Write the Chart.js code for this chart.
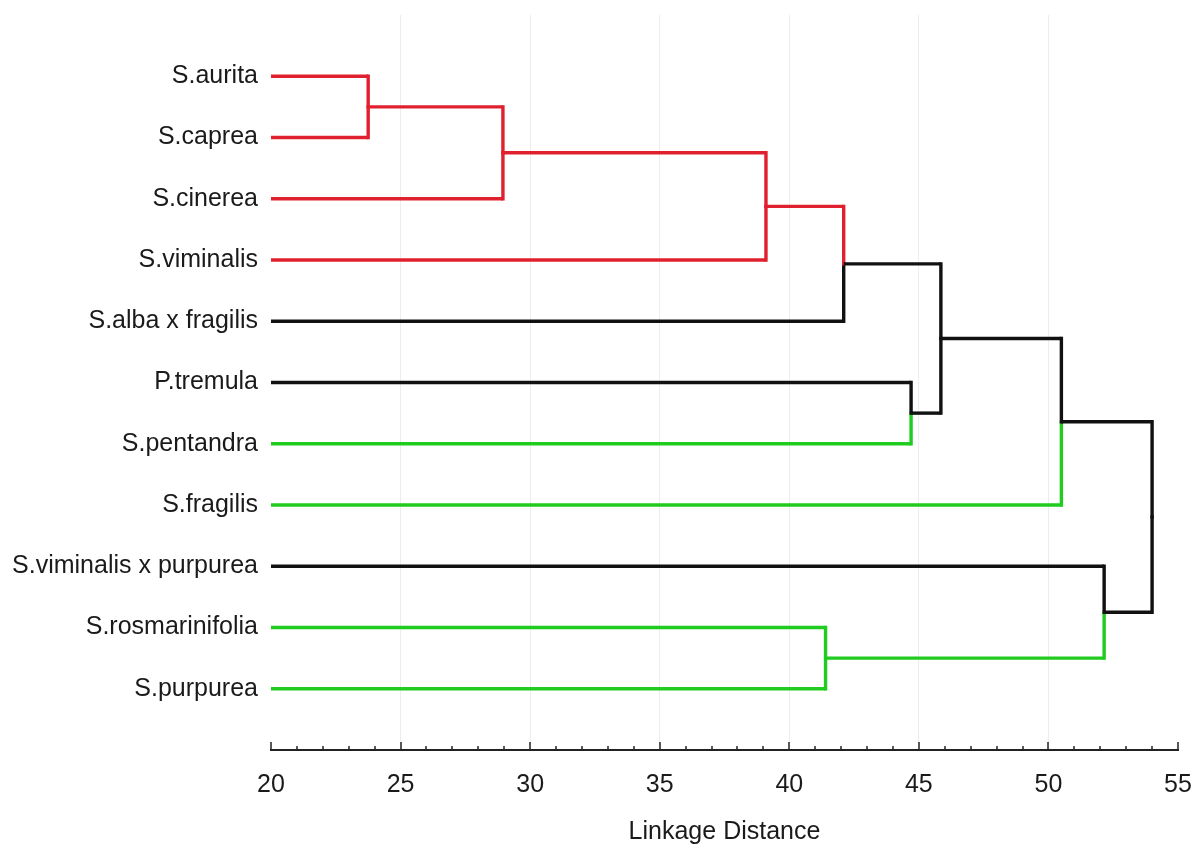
<!DOCTYPE html>
<html>
<head>
<meta charset="utf-8">
<script src="https://cdn.jsdelivr.net/npm/chart.js@4/dist/chart.umd.min.js"></script>
<style>
html,body{margin:0;padding:0;background:#ffffff;}
#wrap{width:1195px;height:845px;}
</style>
</head>
<body>
<div id="wrap"><canvas id="c" width="1195" height="845"></canvas></div>
<script>
// ---- data ----
const leaves = ['S.aurita','S.caprea','S.cinerea','S.viminalis','S.alba x fragilis','P.tremula','S.pentandra','S.fragilis','S.viminalis x purpurea','S.rosmarinifolia','S.purpurea'];
const leafColors = ['red','red','red','red','black','black','green','green','black','green','green'];
// merges: children (leaf index or 'mN' for an earlier merge), linkage distance, cluster colour
const mergeA = [0,'m0','m1','m2',5,'m3','m5',9,8,'m6'];
const mergeB = [1,2,3,4,6,'m4',7,10,'m7','m8'];
const mergeHeights = [23.75,28.95,39.1,42.1,44.7,45.85,50.5,41.4,52.15,54.0];
const mergeColors = ['red','red','red','black','black','black','black','green','black','black'];
const xMin = 20, xMax = 55;
const xLabelStep = 5;
const axisTitle = 'Linkage Distance';

// ---- styles ----
const palette = {red:'#e0202e', green:'#1fcc1f', black:'#111111'};
const FONT = "'Liberation Sans', Arial, Helvetica, sans-serif";
const textColor = '#1a1a1a';

// ---- build dendrogram segments from data ----
function nodeInfo(ref){
  if (typeof ref === 'number') return {x: xMin, y: ref, color: leafColors[ref]};
  return nodes[parseInt(ref.slice(1),10)];
}
const nodes = [];
const datasets = [];
function seg(x1,y1,x2,y2,color,cap){
  datasets.push({
    data:[{x:x1,y:y1},{x:x2,y:y2}],
    showLine:true, borderColor:palette[color], backgroundColor:palette[color],
    borderWidth:3.4, pointRadius:0, pointHoverRadius:0, fill:false,
    borderCapStyle:cap, clip:false, tension:0
  });
}
for (let i=0;i<mergeHeights.length;i++){
  const a = nodeInfo(mergeA[i]);
  const b = nodeInfo(mergeB[i]);
  const h = mergeHeights[i];
  const ym = (a.y + b.y)/2;
  nodes.push({x:h, y:ym, color:mergeColors[i]});
  seg(a.x, a.y, h, a.y, a.color, 'butt');
  seg(b.x, b.y, h, b.y, b.color, 'butt');
}
for (let i=0;i<mergeHeights.length;i++){
  const a = nodeInfo(mergeA[i]);
  const b = nodeInfo(mergeB[i]);
  const h = mergeHeights[i];
  const ym = (a.y + b.y)/2;
  seg(h, a.y, h, ym, a.color, 'square');
  seg(h, ym, h, b.y, b.color, 'square');
}

// ---- inward tick marks on x axis ----
const tickMarks = {
  id:'tickMarks',
  afterDraw(chart){
    const s = chart.scales.x, ctx = chart.ctx, y = chart.chartArea.bottom;
    ctx.save();
    ctx.strokeStyle = '#222';
    ctx.lineWidth = 1.5;
    s.ticks.forEach(t => {
      const px = Math.round(s.getPixelForValue(t.value));
      const len = (t.value % xLabelStep === 0) ? 8 : 4;
      ctx.beginPath();
      ctx.moveTo(px, y);
      ctx.lineTo(px, y - len);
      ctx.stroke();
    });
    ctx.restore();
  }
};

new Chart(document.getElementById('c'), {
  type:'scatter',
  data:{datasets},
  plugins:[tickMarks],
  options:{
    responsive:false, animation:false, devicePixelRatio:1,
    layout:{padding:{left:0,right:17,top:15,bottom:0}},
    plugins:{legend:{display:false}, tooltip:{enabled:false}},
    scales:{
      x:{
        type:'linear', position:'bottom', min:xMin, max:xMax,
        ticks:{stepSize:1, autoSkip:false, maxRotation:0,
          callback:v => (v % xLabelStep === 0) ? String(v) : '',
          font:{family:FONT,size:25}, color:textColor, padding:20},
        grid:{drawTicks:false,
          color:ctx => (ctx.tick && ctx.tick.value % xLabelStep === 0 && ctx.tick.value > xMin && ctx.tick.value < xMax) ? 'rgba(0,0,0,0.07)' : 'rgba(0,0,0,0)',
          lineWidth:1},
        border:{display:true, color:'#222', width:2},
        title:{display:true, text:axisTitle, font:{family:FONT,size:25}, color:textColor, padding:{top:0,bottom:-2}},
        afterFit:s => { s.height = 95; s.paddingLeft = 0; s.paddingRight = 0; }
      },
      y:{
        type:'linear', min:-1, max:leaves.length, reverse:true,
        ticks:{stepSize:1, autoSkip:false,
          callback:v => (Number.isInteger(v) && v >= 0 && v < leaves.length) ? leaves[v] : '',
          font:{family:FONT,size:25}, color:textColor, padding:13},
        grid:{display:false, drawTicks:false},
        border:{display:false},
        afterFit:s => { s.width = 271; s.paddingTop = 0; s.paddingBottom = 0; }
      }
    }
  }
});
</script>
</body>
</html>
